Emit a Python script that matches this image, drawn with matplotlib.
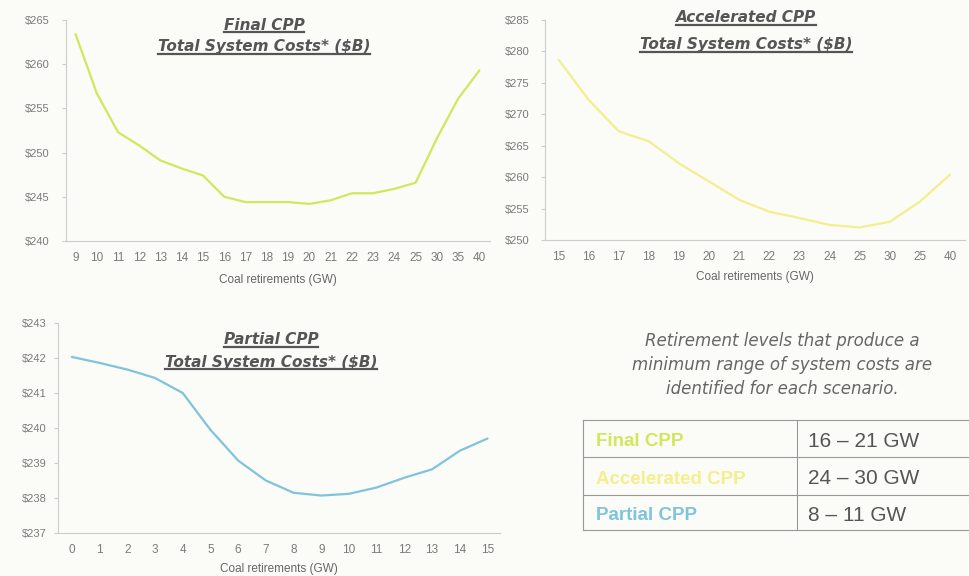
import matplotlib.pyplot as plt
from matplotlib.lines import Line2D
from matplotlib.ticker import FuncFormatter, FixedLocator

plt.rcParams["font.family"] = ["Liberation Sans", "DejaVu Sans"]

# scenario data
final_labels = ["9", "10", "11", "12", "13", "14", "15", "16", "17", "18",
                "19", "20", "21", "22", "23", "24", "25", "30", "35", "40"]
final_costs = [263.4, 256.7, 252.3, 250.8, 249.1, 248.2, 247.4, 245.0, 244.4, 244.4,
               244.4, 244.2, 244.6, 245.4, 245.4, 245.9, 246.6, 251.6, 256.1, 259.3]

accel_labels = ["15", "16", "17", "18", "19", "20", "21", "22", "23", "24",
                "25", "30", "25", "40"]
accel_costs = [278.7, 272.3, 267.3, 265.7, 262.2, 259.3, 256.4, 254.5, 253.5, 252.4,
               252.0, 252.9, 256.1, 260.4]

partial_labels = [str(i) for i in range(16)]
partial_costs = [242.03, 241.86, 241.67, 241.43, 241.0, 239.95, 239.07, 238.5,
                 238.15, 238.07, 238.12, 238.3, 238.58, 238.82, 239.35, 239.7]

scenarios = ["Final CPP", "Accelerated CPP", "Partial CPP"]
min_ranges = ["16 \u2013 21 GW", "24 \u2013 30 GW", "8 \u2013 11 GW"]

FINAL_C = "#d3e65c"
ACCEL_C = "#f3ef8e"
PARTIAL_C = "#7fc4dc"
BG = "#fbfbf8"
W, H = 969, 576


def fx(px):
    return px / W


def fy(py):
    return 1 - py / H


def setupAx(ax, labels, values, color, ylim, ystep, xlim, ypad, xlpad):
    x = list(range(len(labels)))
    ax.plot(x, values, color=color, lw=1.6, solid_capstyle="round")
    ax.set_facecolor(BG)
    ax.set_xlim(*xlim)
    ax.set_ylim(*ylim)
    ax.xaxis.set_major_locator(FixedLocator(x))
    ax.set_xticklabels(labels)
    yt = []
    v = ylim[0]
    while v <= ylim[1] + 1e-9:
        yt.append(v)
        v += ystep
    ax.set_yticks(yt)
    ax.yaxis.set_major_formatter(FuncFormatter(lambda v, p: "\\$%d" % round(v)))
    for s in ["top", "right"]:
        ax.spines[s].set_visible(False)
    for s in ["left", "bottom"]:
        ax.spines[s].set_color("#cccccc")
        ax.spines[s].set_linewidth(0.8)
    ax.tick_params(axis="y", length=3, color="#cccccc", labelsize=8,
                   labelcolor="#7a7a7a", pad=ypad)
    ax.tick_params(axis="x", length=0, labelsize=8.5, labelcolor="#7a7a7a", pad=8)
    ax.set_xlabel("Coal retirements (GW)", fontsize=8.5, color="#666666",
                  labelpad=xlpad)


def twoLineTitle(cx, y1, y2, line1, line2):
    kw = dict(ha="center", va="center", fontsize=11, style="italic", weight="bold",
              color="#555555", family="DejaVu Sans")
    t1 = fig.text(fx(cx), fy(y1), line1, **kw)
    t2 = fig.text(fx(cx), fy(y2), line2, **kw)
    return [t1, t2]


fig = plt.figure(figsize=(9.69, 5.76), dpi=100, facecolor=BG)

ax1 = fig.add_axes([fx(66), fy(241), fx(490 - 66), (241 - 20) / H])
setupAx(ax1, final_labels, final_costs, FINAL_C, (240, 265), 5, (-0.45, 19.5), 9, 7)

ax2 = fig.add_axes([fx(545), fy(240), fx(965 - 545), (240 - 20) / H])
setupAx(ax2, accel_labels, accel_costs, ACCEL_C, (250, 285), 5, (-0.45, 13.5), 8, 6)

ax3 = fig.add_axes([fx(58), fy(533), fx(500 - 58), (533 - 323) / H])
setupAx(ax3, partial_labels, partial_costs, PARTIAL_C, (237, 243), 1, (-0.5, 15.45), 5, 5)

titles = []
titles += twoLineTitle(264, 25, 47, "Final CPP", "Total System Costs* (\\$B)")
titles += twoLineTitle(746, 18, 45, "Accelerated CPP", "Total System Costs* (\\$B)")
titles += twoLineTitle(271, 340, 362, "Partial CPP", "Total System Costs* (\\$B)")

fig.text(fx(782), fy(365),
         "Retirement levels that produce a\nminimum range of system costs are\n"
         "identified for each scenario.",
         ha="center", va="center", fontsize=12, style="italic", color="#666666",
         family="DejaVu Sans", linespacing=1.4)

# table of minimum-cost ranges
tab_left, tab_div, tab_right = 583, 797, 969
row_edges = [420, 457, 495, 530]
grid_c = "#999999"
for yy in row_edges:
    fig.add_artist(Line2D([fx(tab_left), fx(tab_right)], [fy(yy), fy(yy)],
                          color=grid_c, lw=0.8))
for xx in [tab_left, tab_div]:
    fig.add_artist(Line2D([fx(xx), fx(xx)], [fy(row_edges[0]), fy(row_edges[-1])],
                          color=grid_c, lw=0.8))
name_colors = [FINAL_C, ACCEL_C, PARTIAL_C]
for i, (name, rng) in enumerate(zip(scenarios, min_ranges)):
    ym = (row_edges[i] + row_edges[i + 1]) / 2 + 1
    fig.text(fx(596), fy(ym), name, ha="left", va="center_baseline", fontsize=13.5,
             color=name_colors[i], weight="bold")
    fig.text(fx(808), fy(ym), rng, ha="left", va="center_baseline", fontsize=15,
             color="#555555")

# underline the chart titles
fig.canvas.draw()
inv = fig.transFigure.inverted()
for t in titles:
    bb = t.get_window_extent()
    (x0, y0), (x1, y1) = inv.transform([[bb.x0, bb.y0], [bb.x1, bb.y1]])
    fig.add_artist(Line2D([x0, x1], [y0 + 0.001, y0 + 0.001], color="#555555", lw=1.6))

fig.savefig("out.png", dpi=100, facecolor=BG)
